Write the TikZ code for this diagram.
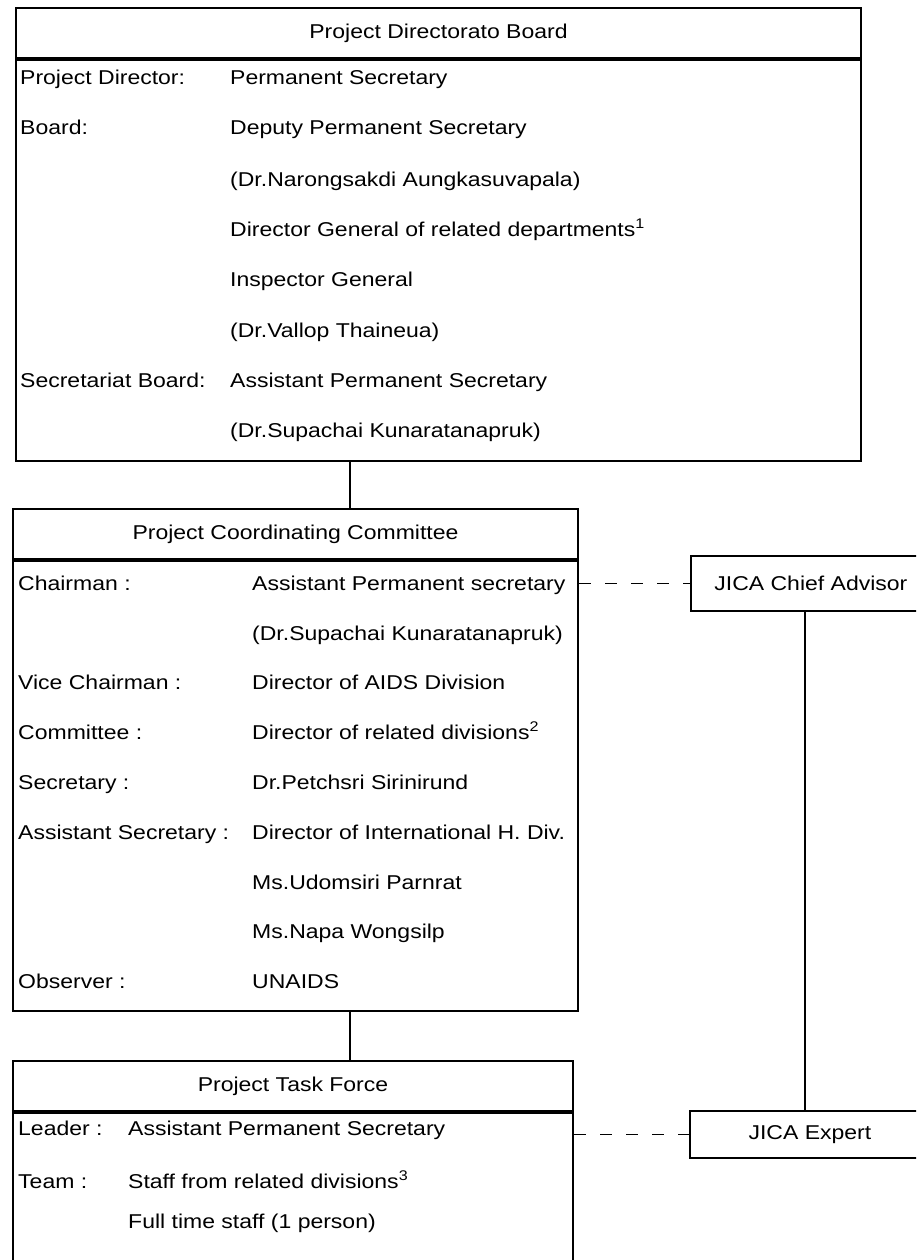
\documentclass[tikz,border=0pt]{standalone}
\usepackage{fontspec}
\setmainfont{Liberation Sans}[FakeStretch=1.15]
\usetikzlibrary{positioning}

\begin{document}
\begin{tikzpicture}[
    x=1pt, y=-1pt,
    panel/.style={rectangle, draw, line width=2pt, inner sep=0pt, font=\fontsize{20}{20}\selectfont},
    jicabox/.style={rectangle, draw, line width=1.8pt, anchor=north west, inner sep=0pt, minimum width=240pt, font=\fontsize{20}{20}\selectfont},
    role/.style={anchor=west, inner sep=0pt, text height=14pt, text depth=4pt, font=\fontsize{20}{20}\selectfont},
    link/.style={line width=2.4pt},
    liaison/.style={line width=1.6pt, dash pattern=on 12pt off 14pt}
]

% Page frame
\clip (0,0) rectangle (916,1260);
\fill[white] (0,0) rectangle (916,1260);
\coordinate (spine) at (350,0);
\coordinate (jicaline) at (805,0);

% Project Directorate Board
\node[panel, anchor=north west, minimum width=845pt, minimum height=50pt] (boardhead) at (15,7) {Project Directorato Board};
\node[panel, below=0pt of boardhead, minimum width=845pt, minimum height=401pt] (boardbody) {};

\node[role] (pdlabel) at (20,80) {Project Director:};
\node[role] (bdlabel) at (20,130) {Board:};
\node[role] (sblabel) at (20,382) {Secretariat Board:};

\node[role] (pd) at (230,80) {Permanent Secretary};
\node[role] (bd1) at (230,130) {Deputy Permanent Secretary};
\node[role] (bd2) at (230,181) {(Dr.Narongsakdi Aungkasuvapala)};
\node[role] (bd3) at (230,231) {Director General of related departments\textsuperscript{1}};
\node[role] (bd4) at (230,281) {Inspector General};
\node[role] (bd5) at (230,332) {(Dr.Vallop Thaineua)};
\node[role] (sb1) at (230,382) {Assistant Permanent Secretary};
\node[role] (sb2) at (230,432) {(Dr.Supachai Kunaratanapruk)};

% Project Coordinating Committee
\node[panel, anchor=north west, minimum width=565pt, minimum height=50pt] (pcchead) at (12,508) {Project Coordinating Committee};
\node[panel, below=0pt of pcchead, minimum width=565pt, minimum height=450pt] (pccbody) {};

\node[role] (chlabel) at (18,585) {Chairman :};
\node[role] (vclabel) at (18,684) {Vice Chairman :};
\node[role] (cmlabel) at (18,734) {Committee :};
\node[role] (sclabel) at (18,784) {Secretary :};
\node[role] (aslabel) at (18,834) {Assistant Secretary :};
\node[role] (oblabel) at (18,983) {Observer :};

\node[role] (ch1) at (252,585) {Assistant Permanent secretary};
\node[role] (ch2) at (252,635) {(Dr.Supachai Kunaratanapruk)};
\node[role] (vc) at (252,684) {Director of AIDS Division};
\node[role] (cm) at (252,734) {Director of related divisions\textsuperscript{2}};
\node[role] (sc) at (252,784) {Dr.Petchsri Sirinirund};
\node[role] (as1) at (252,834) {Director of International H. Div.};
\node[role] (as2) at (252,884) {Ms.Udomsiri Parnrat};
\node[role] (as3) at (252,933) {Ms.Napa Wongsilp};
\node[role] (ob) at (252,983) {UNAIDS};

% Project Task Force
\node[panel, anchor=north west, minimum width=560pt, minimum height=50pt] (ptfhead) at (12,1060) {Project Task Force};
\node[panel, below=0pt of ptfhead, minimum width=560pt, minimum height=180pt] (ptfbody) {};

\node[role] (ldlabel) at (18,1130) {Leader :};
\node[role] (tmlabel) at (18,1183) {Team :};

\node[role] (ld) at (128,1130) {Assistant Permanent Secretary};
\node[role] (tm1) at (128,1183) {Staff from related divisions\textsuperscript{3}};
\node[role] (tm2) at (128,1223) {Full time staff (1 person)};

% JICA side
\node[jicabox, minimum height=55pt] (chief) at (690,555) {JICA Chief Advisor};
\node[jicabox, minimum height=47pt] (expert) at (689,1110) {JICA Expert};

% Chain of command
\draw[link] (boardbody.south -| spine) -- (pcchead.north -| spine);
\draw[link] (pccbody.south -| spine) -- (ptfhead.north -| spine);
\draw[link] (chief.south -| jicaline) -- (expert.north -| jicaline);

% Liaison with JICA
\draw[liaison] (chief.west -| pccbody.east) -- (chief.west);
\draw[liaison] (expert.west -| ptfbody.east) -- (expert.west);

\end{tikzpicture}
\end{document}
